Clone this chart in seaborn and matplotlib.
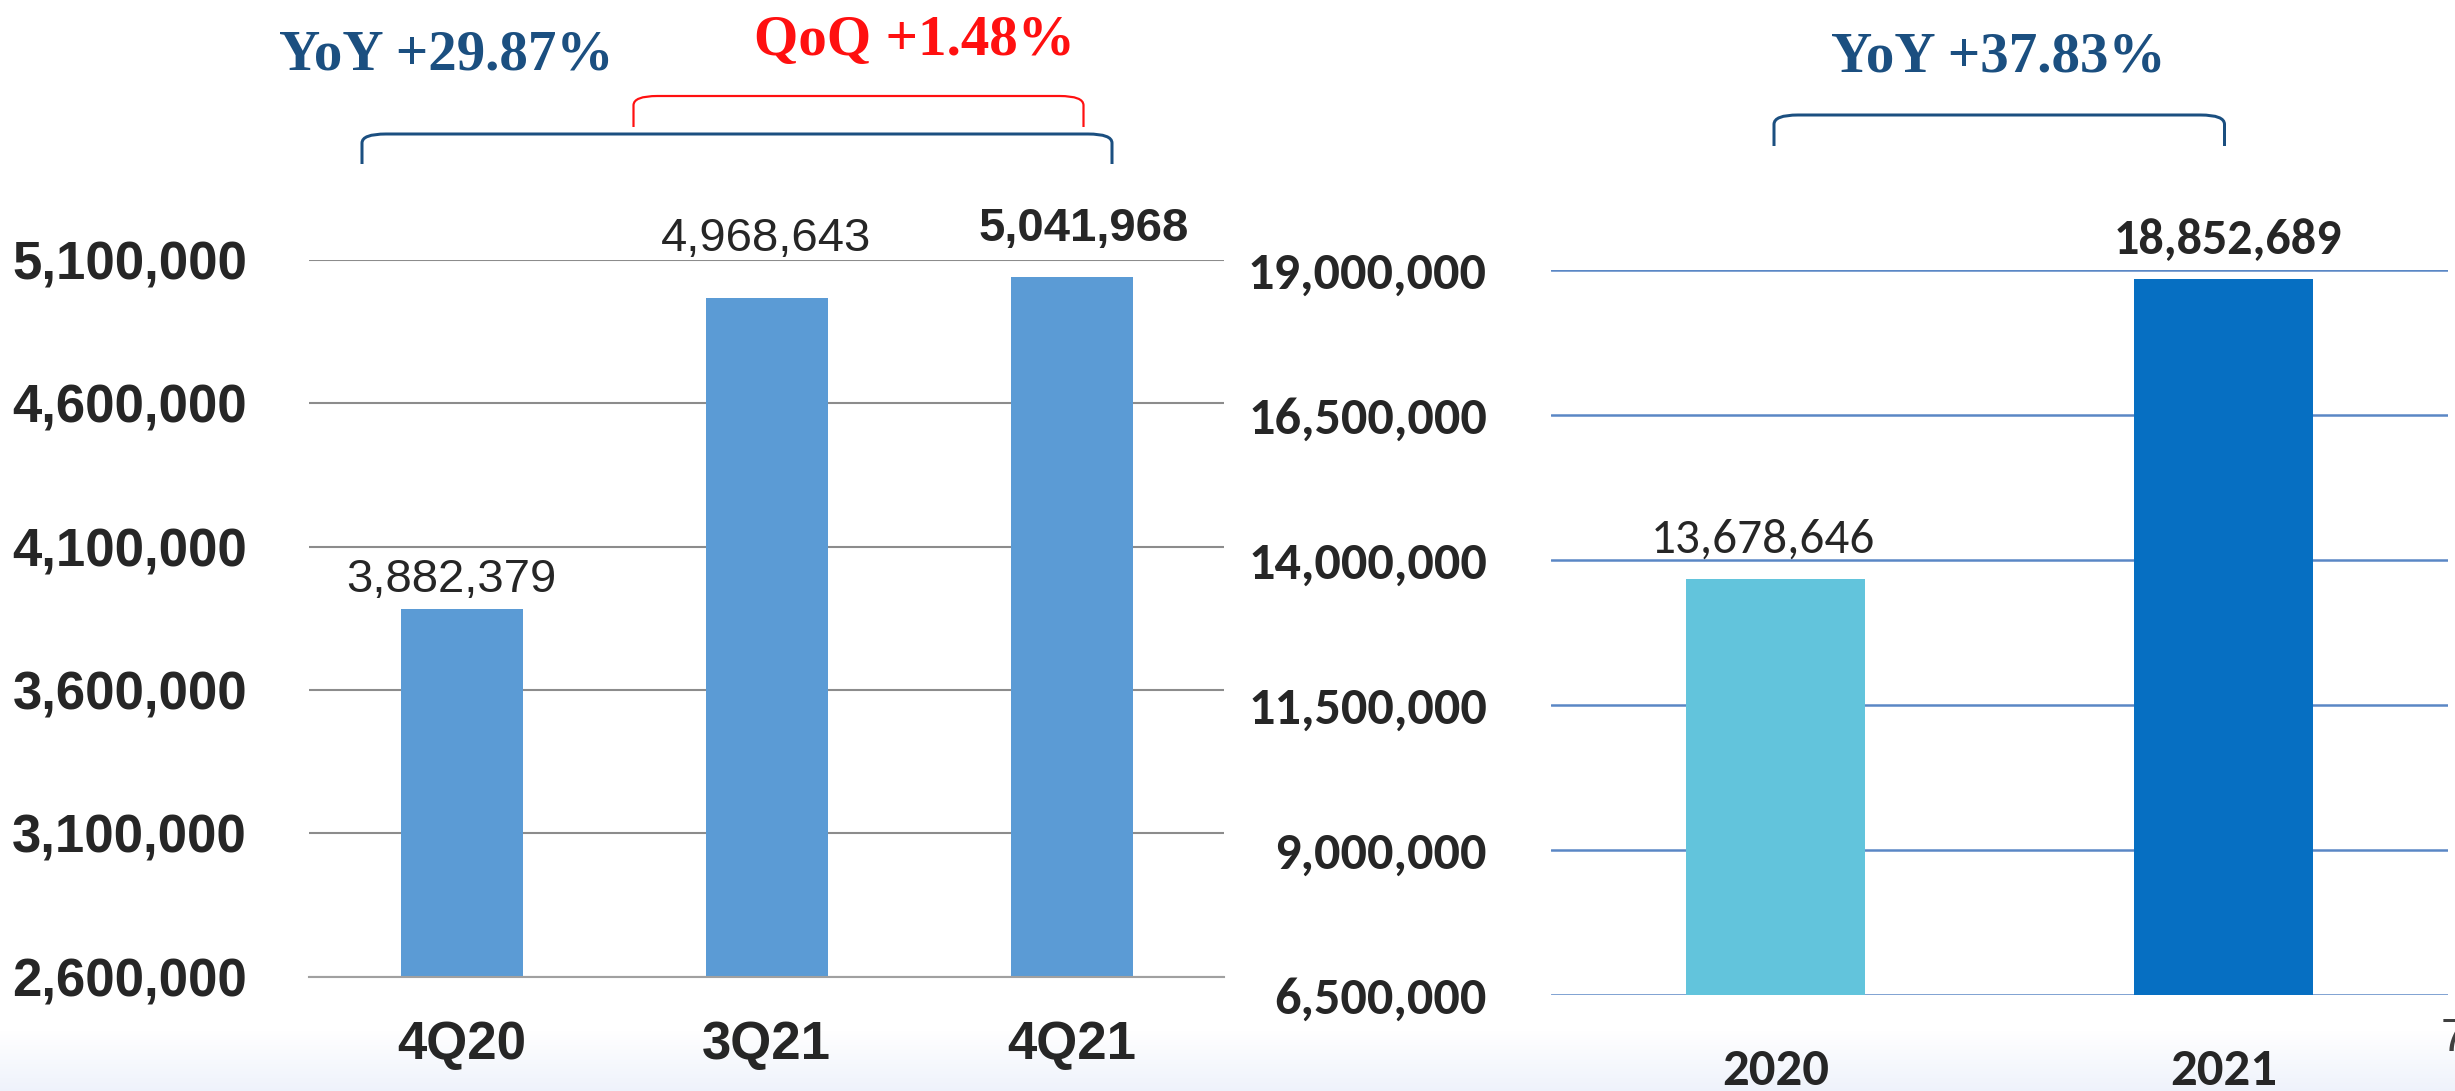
import numpy as np
import pandas as pd
import matplotlib
matplotlib.use("Agg")
import matplotlib.pyplot as plt
from matplotlib.path import Path
from matplotlib.patches import PathPatch
from matplotlib import font_manager as fm
import seaborn as sns

# ---------------- data ----------------
quarters = ["4Q20", "3Q21", "4Q21"]
quarter_values = [3882379, 4968643, 5041968]
left_ticks = [2600000, 3100000, 3600000, 4100000, 4600000, 5100000]

years = ["2020", "2021"]
year_values = [13678646, 18852689]
right_ticks = [6500000, 9000000, 11500000, 14000000, 16500000, 19000000]

yoy_q_text = "YoY +29.87%"
qoq_text = "QoQ +1.48%"
yoy_y_text = "YoY +37.83%"
page_number = "7"

# ---------------- styles ----------------
W, H = 2455, 1091
avail = {f.name for f in fm.fontManager.ttflist}
sans = next((f for f in ["Liberation Sans", "Arial", "DejaVu Sans"] if f in avail), "DejaVu Sans")
cal = next((f for f in ["Carlito", "Calibri", "Lato", "Open Sans"] if f in avail), "DejaVu Sans")
serif = next((f for f in ["Liberation Serif", "DejaVu Serif"] if f in avail), "serif")

sns.set_style("white")
plt.rcParams["font.family"] = [sans, "DejaVu Sans"]

fig = plt.figure(figsize=(W / 100, H / 100), dpi=100)
fig.patch.set_facecolor("white")

# bottom background gradient
bg = fig.add_axes([0, 0, 1, 1], zorder=-10)
rows = np.ones((H, 1, 3))
start = 1030
t = np.clip((np.arange(H) - start) / (H - start), 0, 1)
end_col = np.array([0.935, 0.950, 0.985])
rows[:, 0, :] = (1 - t)[:, None] * 1.0 + t[:, None] * end_col[None, :]
bg.imshow(rows, aspect="auto", extent=[0, W, H, 0])
bg.set_xlim(0, W)
bg.set_ylim(H, 0)
bg.axis("off")


def px_axes(x0, x1, ytop, ybot):
    return [x0 / W, 1 - ybot / H, (x1 - x0) / W, (ybot - ytop) / H]


PT = 0.72  # pixels -> points at 100 dpi

# ---------------- left chart ----------------
axL = fig.add_axes(px_axes(309, 1224, 260, 976.7))
axL.patch.set_alpha(0)
dfL = pd.DataFrame({"q": quarters, "v": quarter_values})
sns.barplot(data=dfL, x="q", y="v", ax=axL, color="#5B9BD5", saturation=1,
            width=0.4, linewidth=0, errorbar=None)
axL.set_xlim(-0.5, len(quarters) - 0.5)
axL.set_ylim(left_ticks[0], left_ticks[-1])
axL.set_yticks(left_ticks)
axL.set_yticklabels([f"{v:,}" for v in left_ticks], fontsize=38, fontweight="bold",
                    family=[sans, "DejaVu Sans"])
axL.set_xticks(range(len(quarters)))
axL.set_xticklabels(quarters, fontsize=38, fontweight="bold", family=[sans, "DejaVu Sans"])
axL.set_xticks(np.arange(len(quarters) + 1) - 0.5, minor=True)
axL.tick_params(axis="y", length=0, pad=62 * PT)
axL.tick_params(axis="x", which="major", length=0, pad=43 * PT)
axL.tick_params(axis="x", which="minor", length=17 * PT, width=1.3, color="#A0A0A0",
                direction="out")
axL.set_xlabel("")
axL.set_ylabel("")
axL.set_axisbelow(True)
axL.yaxis.grid(True, color="#8C8C8C", linewidth=1.5)
axL.xaxis.grid(False)
for s in ["left", "right", "top"]:
    axL.spines[s].set_visible(False)
axL.spines["bottom"].set_color("#A0A0A0")
axL.spines["bottom"].set_linewidth(1.5)

left_label_dy = [17, 47, 36]
left_label_dx = [-10, 0, 12]
left_label_bold = [False, False, True]
for i, v in enumerate(quarter_values):
    axL.annotate(f"{v:,}", xy=(i, v), xytext=(left_label_dx[i] * PT, left_label_dy[i] * PT),
                 textcoords="offset points", ha="center", va="baseline", fontsize=34,
                 fontweight="bold" if left_label_bold[i] else "normal",
                 family=[sans, "DejaVu Sans"], annotation_clip=False)

# ---------------- right chart ----------------
axR = fig.add_axes(px_axes(1551, 2448, 270, 995))
axR.patch.set_alpha(0)
dfR = pd.DataFrame({"y": years, "v": year_values})
sns.barplot(data=dfR, x="y", y="v", hue="y", ax=axR, palette=["#62C4DC", "#066FC2"],
            saturation=1, width=0.4, linewidth=0, errorbar=None, legend=False)
axR.set_xlim(-0.5, len(years) - 0.5)
axR.set_ylim(right_ticks[0], right_ticks[-1])
axR.set_yticks(right_ticks)
axR.set_yticklabels([f"{v:,}" for v in right_ticks], fontsize=37.5, fontweight="bold",
                    family=[cal, "DejaVu Sans"])
axR.set_xticks(range(len(years)))
axR.set_xticklabels(years, fontsize=38, fontweight="bold", family=[cal, "DejaVu Sans"])
axR.tick_params(axis="y", length=0, pad=64 * PT)
axR.tick_params(axis="x", length=0, pad=53 * PT)
axR.set_xlabel("")
axR.set_ylabel("")
axR.set_axisbelow(True)
axR.yaxis.grid(True, color="#5A87C5", linewidth=1.8)
axR.xaxis.grid(False)
for s in ["left", "right", "top", "bottom"]:
    axR.spines[s].set_visible(False)

right_label_dy = [26, 24]
right_label_dx = [-12, 4]
right_label_bold = [False, True]
for i, v in enumerate(year_values):
    axR.annotate(f"{v:,}", xy=(i, v), xytext=(right_label_dx[i] * PT, right_label_dy[i] * PT),
                 textcoords="offset points", ha="center", va="baseline",
                 fontsize=36 if right_label_bold[i] else 35.5,
                 fontweight="bold" if right_label_bold[i] else "normal",
                 family=[cal, "DejaVu Sans"], annotation_clip=False)

# ---------------- annotations overlay ----------------
ov = fig.add_axes([0, 0, 1, 1], zorder=5)
ov.set_xlim(0, W)
ov.set_ylim(H, 0)
ov.axis("off")
ov.patch.set_alpha(0)


def bracket(x0, x1, yt, yb, color, lw, r=24):
    verts = [(x0, yb), (x0, yt + 0.6 * (yb - yt) * 0.5), (x0, yt), (x0 + r, yt),
             (x1 - r, yt), (x1, yt), (x1, yt + 0.6 * (yb - yt) * 0.5), (x1, yb)]
    codes = [Path.MOVETO, Path.LINETO, Path.CURVE3, Path.CURVE3,
             Path.LINETO, Path.CURVE3, Path.CURVE3, Path.LINETO]
    ov.add_patch(PathPatch(Path(verts, codes), fill=False, edgecolor=color,
                           linewidth=lw * PT, capstyle="butt", joinstyle="round"))


blue = "#1B4F80"
red = "#FF1010"
bracket(362, 1112, 134, 164, blue, 3)
bracket(633.5, 1083.5, 96, 127, red, 2.2)
bracket(1774, 2224.5, 115, 146, blue, 3)

ov.text(446, 70, yoy_q_text, color=blue, fontsize=41, ha="center", va="baseline",
        fontweight="bold", family=[serif, "DejaVu Serif"])
ov.text(914.5, 55, qoq_text, color=red, fontsize=41, ha="center", va="baseline",
        fontweight="bold", family=[serif, "DejaVu Serif"])
ov.text(1998.5, 71, yoy_y_text, color=blue, fontsize=41, ha="center", va="baseline",
        fontweight="bold", family=[serif, "DejaVu Serif"])
ov.text(2441, 1051, page_number, color="#404040", fontsize=34, ha="left", va="baseline",
        family=[sans, "DejaVu Sans"], clip_on=False)

fig.savefig("out.png", dpi=100, facecolor="white")
